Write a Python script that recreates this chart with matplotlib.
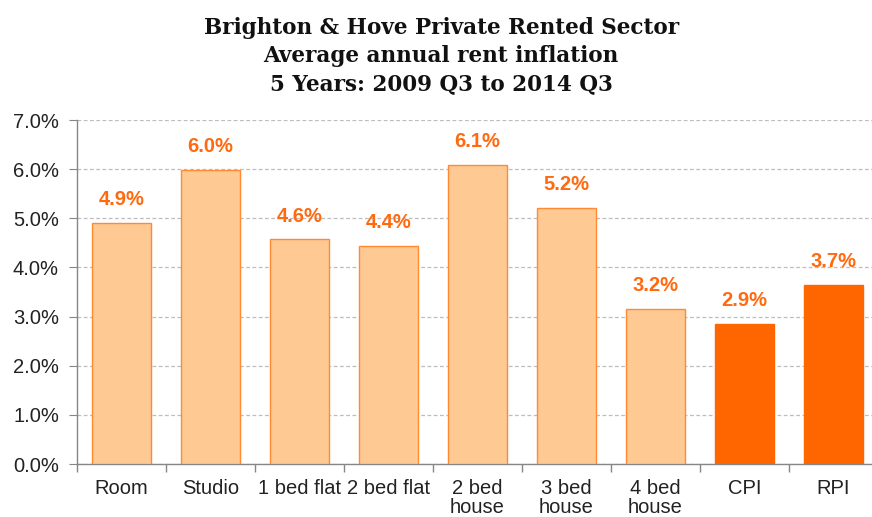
import matplotlib
matplotlib.use("Agg")
import matplotlib.pyplot as plt
import numpy as np

categories = ["Room", "Studio", "1 bed flat", "2 bed flat", "2 bed\nhouse",
              "3 bed\nhouse", "4 bed\nhouse", "CPI", "RPI"]
values = [4.91, 5.99, 4.57, 4.43, 6.09, 5.21, 3.15, 2.85, 3.65]
labels = ["4.9%", "6.0%", "4.6%", "4.4%", "6.1%", "5.2%", "3.2%", "2.9%", "3.7%"]
is_index = [False] * 7 + [True, True]

light = "#FFC993"
dark = "#FF6600"
label_col = "#FF6A10"

plt.rcParams['font.family'] = ['Liberation Sans', 'DejaVu Sans']

fig = plt.figure(figsize=(8.72, 5.17), dpi=100)
ax = fig.add_axes([77 / 872, 53 / 517, 801 / 872, 344 / 517])

x = np.arange(len(categories))
colors = [dark if c else light for c in is_index]
edges = [dark if c else "#FF8A33" for c in is_index]
bars = ax.bar(x, values, width=0.67, color=colors, edgecolor=edges, linewidth=1, zorder=3)

for xi, v, lab in zip(x, values, labels):
    ax.annotate(lab, (xi, v), xytext=(0, 10), textcoords="offset points",
                ha="center", va="bottom", fontsize=14.5, fontweight="bold", color=label_col)

ax.set_xlim(-0.5, len(categories) - 0.5)
ax.set_ylim(0, 7)
ax.set_yticks(np.arange(0, 7.01, 1))
ax.set_yticklabels(["{:.1f}%".format(t) for t in np.arange(0, 7.01, 1)])
ax.yaxis.grid(True, linestyle=(0, (3, 2)), color="#BDBDBD", linewidth=0.9, zorder=0)

ax.set_xticks(x)
ax.set_xticklabels(categories, linespacing=1.0)
ax.set_xticks(np.arange(-0.5, len(categories), 1), minor=True)
ax.tick_params(axis="x", which="major", length=0, pad=11, labelsize=14.5, colors="#222222")
ax.tick_params(axis="x", which="minor", length=6, color="#868686", width=1)
ax.tick_params(axis="y", length=6, color="#868686", labelsize=14.5, colors="#222222", pad=7)

for s in ["top", "right"]:
    ax.spines[s].set_visible(False)
for s in ["left", "bottom"]:
    ax.spines[s].set_color("#868686")
    ax.spines[s].set_linewidth(1)

title = "Brighton & Hove Private Rented Sector\nAverage annual rent inflation\n5 Years: 2009 Q3 to 2014 Q3"
fig.text(0.506, 0.968, title, ha="center", va="top", fontsize=15.5, fontweight="bold",
         family="DejaVu Serif", linespacing=1.38, color="#111111")

fig.savefig("out.png", dpi=100)
